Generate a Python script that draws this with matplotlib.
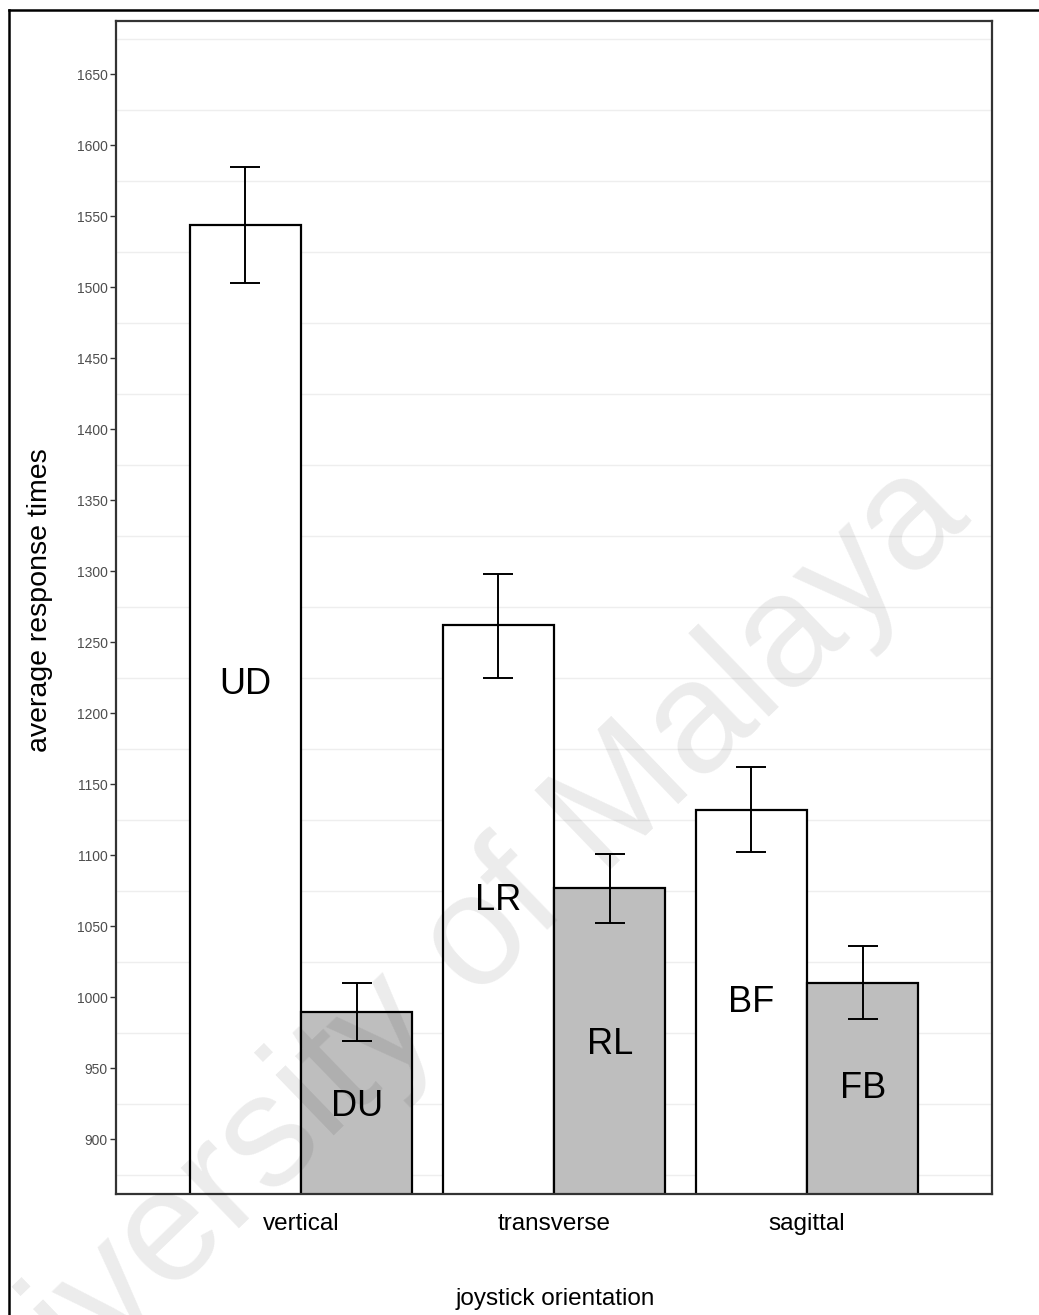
import matplotlib
matplotlib.use("Agg")
import numpy as np
import matplotlib.pyplot as plt
from matplotlib.lines import Line2D

# ---- data ----
orientations = ["vertical", "transverse", "sagittal"]
first_labels = ["UD", "LR", "BF"]
second_labels = ["DU", "RL", "FB"]

first_means = [1544, 1262, 1132]
first_lo = [1503, 1225, 1102]
first_hi = [1585, 1298, 1162]

second_means = [990, 1077, 1010]
second_lo = [969, 1052, 985]
second_hi = [1010, 1101, 1036]

# y position of the in-bar direction labels
first_label_y = [1220, 1068, 996]
second_label_y = [923, 967, 936]

yticks = list(range(900, 1651, 50))

FONT = ["Liberation Sans", "DejaVu Sans"]
plt.rcParams["font.family"] = FONT

W, H, DPI = 1039, 1315, 100
fig = plt.figure(figsize=(W / DPI, H / DPI), dpi=DPI)
ax = fig.add_axes([116 / W, 1 - 1194 / H, (992 - 116) / W, (1194 - 21) / H])

x = np.arange(len(orientations))
bw = 0.44

ax.set_xlim(-0.731, 2.731)
ax.set_ylim(861.5, 1687.5)

# light minor grid only (between tick values)
for g in np.arange(875, 1700, 50):
    ax.axhline(g, color="#EEEEEE", lw=1.0, zorder=0)

ax.bar(x - bw / 2, first_means, width=bw, color="white", edgecolor="black",
       linewidth=1.6, zorder=2)
ax.bar(x + bw / 2, second_means, width=bw, color="#BEBEBE", edgecolor="black",
       linewidth=1.6, zorder=2)

m1 = np.array(first_means)
m2 = np.array(second_means)
ax.errorbar(x - bw / 2, m1, yerr=[m1 - np.array(first_lo), np.array(first_hi) - m1],
            fmt="none", ecolor="black", elinewidth=1.4, capsize=11, capthick=1.4, zorder=3)
ax.errorbar(x + bw / 2, m2, yerr=[m2 - np.array(second_lo), np.array(second_hi) - m2],
            fmt="none", ecolor="black", elinewidth=1.4, capsize=11, capthick=1.4, zorder=3)

for i in range(len(orientations)):
    ax.text(x[i] - bw / 2, first_label_y[i], first_labels[i], ha="center", va="center",
            fontsize=26, color="black", zorder=4)
    ax.text(x[i] + bw / 2, second_label_y[i], second_labels[i], ha="center", va="center",
            fontsize=26, color="black", zorder=4)

ax.set_yticks(yticks)
ax.set_yticklabels([str(v) for v in yticks])
ax.tick_params(axis="y", labelsize=10, labelcolor="#4D4D4D", color="#333333",
               length=4, width=1, pad=2)
ax.set_xticks(x)
ax.set_xticklabels(orientations)
ax.tick_params(axis="x", labelsize=17.5, labelcolor="black", length=0, pad=14)

for s in ax.spines.values():
    s.set_color("#333333")
    s.set_linewidth(1.6)

fig.text(555 / W, 1 - 1299 / H, "joystick orientation", ha="center", va="center",
         fontsize=17.5)
fig.text(40 / W, 1 - 600 / H, "average response times", ha="center", va="center",
         rotation=90, fontsize=20.5)

# page frame visible on the top and left edges
fig.add_artist(Line2D([9 / W, 9 / W], [0, 1 - 10 / H], transform=fig.transFigure,
                      color="black", lw=1.8))
fig.add_artist(Line2D([9 / W, 1], [1 - 10 / H, 1 - 10 / H], transform=fig.transFigure,
                      color="black", lw=1.8))

# watermark
fig.text(455 / W, 1 - 1020 / H, "University of Malaya", ha="center", va="baseline",
         rotation=44, rotation_mode="anchor", fontsize=115, color="black", alpha=0.08,
         zorder=10)

fig.savefig("out.png", dpi=DPI)
